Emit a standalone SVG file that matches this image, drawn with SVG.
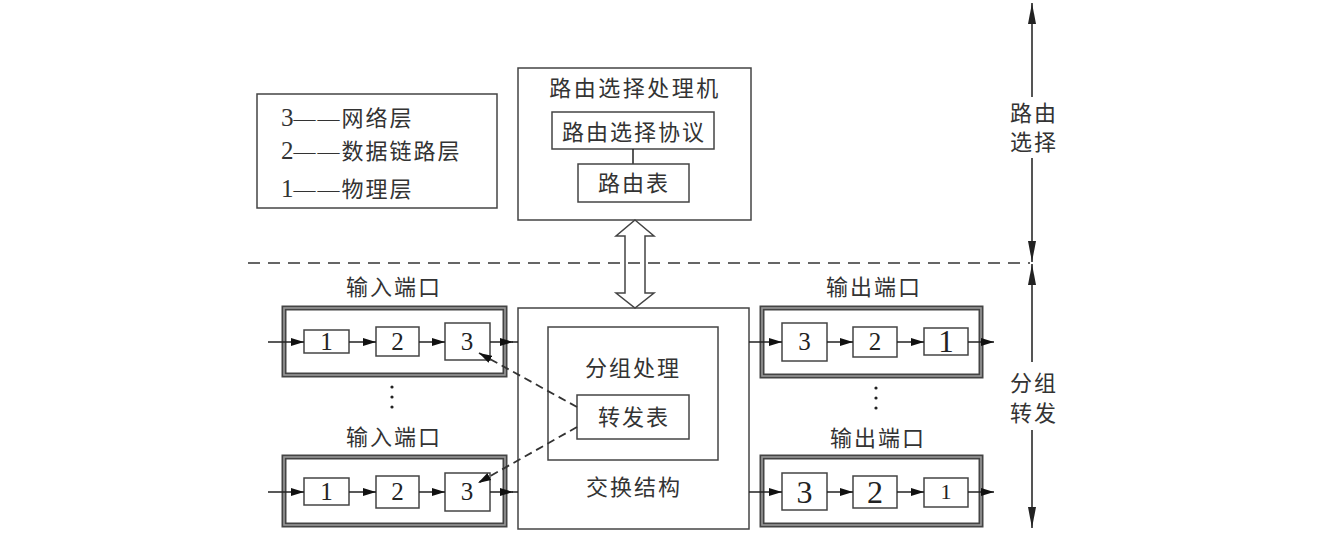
<svg xmlns="http://www.w3.org/2000/svg" width="1334" height="547" viewBox="0 0 1334 547">
<style>
.t{font-family:"Liberation Serif","Noto Sans CJK SC",serif;font-size:22px;fill:#333;letter-spacing:2px}
.c{text-anchor:middle}
.n{font-size:25px;letter-spacing:0}
.d{font-family:"Liberation Serif",serif;font-size:25px;fill:#222;text-anchor:middle}
.box{fill:#fff;stroke:#444;stroke-width:1.5}
.frameA{fill:none;stroke:#444;stroke-width:5}
.frameB{fill:none;stroke:#999;stroke-width:1.6}
.ln{fill:none;stroke:#222;stroke-width:1.5}
.dash{fill:none;stroke:#333;stroke-width:1.8;stroke-dasharray:8 5}
.vl{fill:none;stroke:#555;stroke-width:2}
</style>
<defs>
<marker id="ah" markerUnits="userSpaceOnUse" markerWidth="14" markerHeight="10" refX="13" refY="5" orient="auto">
<path d="M0,1 L13,5 L0,9 Z" fill="#111"/>
</marker>
<marker id="al" markerUnits="userSpaceOnUse" markerWidth="22" markerHeight="10" refX="21" refY="5" orient="auto">
<path d="M0,1 L21,5 L0,9 Z" fill="#222"/>
</marker>
</defs>

<g id="legend">
<rect class="box" x="257" y="94" width="240" height="114"/>
<text class="t" x="281" y="126"><tspan class="n">3</tspan>——网络层</text>
<text class="t" x="281" y="159"><tspan class="n">2</tspan>——数据链路层</text>
<text class="t" x="281" y="197"><tspan class="n">1</tspan>——物理层</text>
</g>

<g id="routing-processor">
<rect class="box" x="518" y="68" width="233" height="152"/>
<text class="t c" x="635" y="96" style="letter-spacing:2.5px">路由选择处理机</text>
<rect class="box" x="552" y="112" width="162" height="37"/>
<text class="t c" x="634" y="140">路由选择协议</text>
<line class="ln" x1="633" y1="149" x2="633" y2="164"/>
<rect class="box" x="578" y="164" width="111" height="38"/>
<text class="t c" x="634" y="191">路由表</text>
</g>

<g id="switch-fabric">
<rect class="box" x="518" y="308" width="231" height="221"/>
<rect class="box" x="548" y="327" width="170" height="133"/>
<text class="t c" x="633" y="376">分组处理</text>
<rect class="box" x="577" y="395" width="112" height="44"/>
<text class="t c" x="634" y="425">转发表</text>
<text class="t c" x="634" y="495">交换结构</text>
</g>

<g id="input-port-1">
<text class="t c" x="394" y="295">输入端口</text>
<rect class="frameA" x="284" y="308" width="221" height="67"/>
<rect class="frameB" x="284" y="308" width="221" height="67"/>
<rect class="box" x="304" y="330" width="45" height="23"/>
<text class="d" x="326.5" y="350">1</text>
<rect class="box" x="376" y="327" width="43" height="29"/>
<text class="d" x="397.5" y="350">2</text>
<rect class="box" x="445" y="323" width="45" height="37"/>
<text class="d" x="467" y="350">3</text>
</g>

<g id="input-port-2">
<text class="t c" x="394" y="445">输入端口</text>
<rect class="frameA" x="284" y="457" width="221" height="68"/>
<rect class="frameB" x="284" y="457" width="221" height="68"/>
<rect class="box" x="304" y="478" width="45" height="27"/>
<text class="d" x="326.5" y="500">1</text>
<rect class="box" x="376" y="476" width="43" height="32"/>
<text class="d" x="397.5" y="500">2</text>
<rect class="box" x="445" y="473" width="45" height="38"/>
<text class="d" x="467" y="500">3</text>
</g>

<g id="output-port-1">
<text class="t c" x="874" y="295">输出端口</text>
<rect class="frameA" x="762" y="308" width="219" height="68"/>
<rect class="frameB" x="762" y="308" width="219" height="68"/>
<rect class="box" x="782" y="323" width="45" height="38"/>
<text class="d" x="804.5" y="350">3</text>
<rect class="box" x="853" y="327" width="44" height="30"/>
<text class="d" x="875" y="350">2</text>
<rect class="box" x="924" y="328" width="44" height="27"/>
<text class="d" x="946" y="352" style="font-size:31px">1</text>
</g>

<g id="output-port-2">
<text class="t c" x="878" y="446">输出端口</text>
<rect class="frameA" x="762" y="457" width="219" height="68"/>
<rect class="frameB" x="762" y="457" width="219" height="68"/>
<rect class="box" x="782" y="473" width="45" height="37"/>
<text class="d" x="804.5" y="503" style="font-size:32px">3</text>
<rect class="box" x="853" y="476" width="44" height="32"/>
<text class="d" x="875" y="503" style="font-size:32px">2</text>
<rect class="box" x="924" y="478" width="44" height="29"/>
<text class="d" x="946" y="499" style="font-size:22px">1</text>
</g>

<g id="side-labels">
<text class="t c" x="1034" y="121">路由</text>
<text class="t c" x="1034" y="150">选择</text>
<text class="t c" x="1034" y="391">分组</text>
<text class="t c" x="1034" y="421">转发</text>
</g>

<g id="dots">
<circle cx="392" cy="387" r="1.6" fill="#222"/>
<circle cx="392" cy="397" r="1.6" fill="#222"/>
<circle cx="392" cy="407" r="1.6" fill="#222"/>
<circle cx="876" cy="388" r="1.6" fill="#222"/>
<circle cx="876" cy="398" r="1.6" fill="#222"/>
<circle cx="876" cy="408" r="1.6" fill="#222"/>
</g>

<g id="connectors">
<line x1="248" y1="263" x2="1030" y2="263" style="fill:none;stroke:#333;stroke-width:1.6;stroke-dasharray:12 8"/>
<polygon points="635,220 654,236 645,236 645,293 654,293 635,308 616,293 625,293 625,236 616,236" fill="none" stroke="#444" stroke-width="1.5"/>

<path class="ln" d="M268,342 H304" marker-end="url(#ah)"/>
<path class="ln" d="M349,342 H376" marker-end="url(#ah)"/>
<path class="ln" d="M419,342 H445" marker-end="url(#ah)"/>
<path class="ln" d="M490,342 H513" marker-end="url(#ah)"/>
<path class="ln" d="M512,342 H518"/>

<path class="ln" d="M268,492 H304" marker-end="url(#ah)"/>
<path class="ln" d="M349,492 H376" marker-end="url(#ah)"/>
<path class="ln" d="M419,492 H445" marker-end="url(#ah)"/>
<path class="ln" d="M490,492 H513" marker-end="url(#ah)"/>
<path class="ln" d="M512,492 H518"/>

<path class="ln" d="M749,342 H782" marker-end="url(#ah)"/>
<path class="ln" d="M827,342 H853" marker-end="url(#ah)"/>
<path class="ln" d="M897,342 H924" marker-end="url(#ah)"/>
<path class="ln" d="M968,342 H994" marker-end="url(#ah)"/>

<path class="ln" d="M749,492 H782" marker-end="url(#ah)"/>
<path class="ln" d="M827,492 H853" marker-end="url(#ah)"/>
<path class="ln" d="M897,492 H924" marker-end="url(#ah)"/>
<path class="ln" d="M968,492 H994" marker-end="url(#ah)"/>

<path class="dash" d="M577,407 L479,353" marker-end="url(#ah)"/>
<path class="dash" d="M577,427 L478,483" marker-end="url(#ah)"/>

<path class="vl" d="M1032,97 V3" marker-end="url(#al)"/>
<path class="vl" d="M1032,158 V262" marker-end="url(#al)"/>
<path class="vl" d="M1032,362 V264" marker-end="url(#al)"/>
<path class="vl" d="M1032,430 V528" marker-end="url(#al)"/>
</g>
</svg>
